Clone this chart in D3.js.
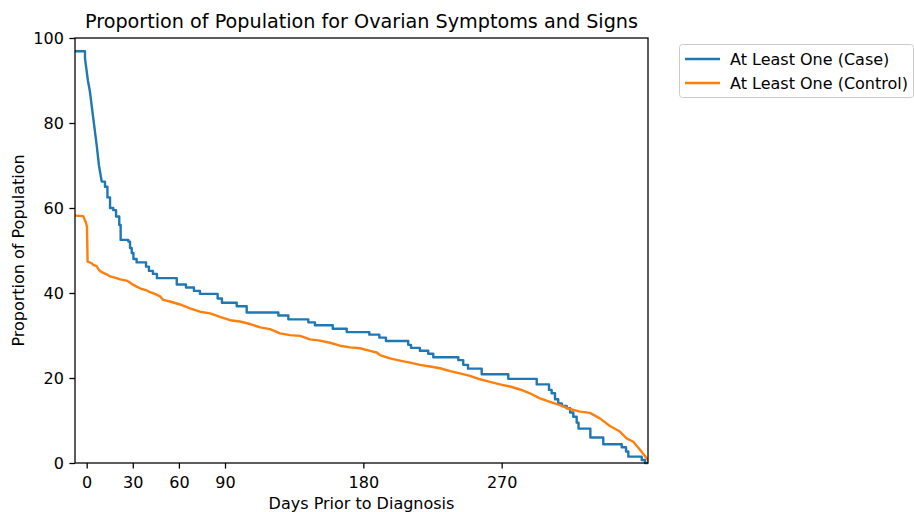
<!DOCTYPE html>
<html>
<head>
<meta charset="utf-8">
<script src="https://cdn.jsdelivr.net/npm/d3@7"></script>
<style>
  html, body { margin: 0; padding: 0; background: #fff; }
  svg { display: block; font-family: "DejaVu Sans", sans-serif; }
</style>
</head>
<body>
<svg id="chart" width="914" height="512"></svg>
<script>
// Days relative to diagnosis and proportion of population (%)
const caseDays = [-7.6, -1.8, -1.1, 0.8, 2.1, 4.3, 6.5, 8.0, 9.8, 11.9, 13.5, 15.2, 17.3, 19.1, 21.2, 22.1, 27.1, 28.2, 29.3, 30.4, 32.5, 38.6, 40.5, 43.1, 45.7, 58.6, 64.6, 69.8, 73.7, 85.2, 88.0, 97.6, 104.1, 124.7, 131.2, 144.2, 148.5, 160.1, 169.2, 183.9, 190.4, 194.7, 209.2, 211.0, 216.8, 222.2, 225.5, 241.8, 245.0, 248.1, 257.0, 274.3, 292.8, 300.8, 302.5, 304.7, 306.8, 309.2, 312.3, 314.5, 316.6, 318.8, 320.0, 327.7, 336.1, 348.1, 350.9, 352.4, 361.1, 363.2, 365.2];
const caseValues = [96.9, 96.9, 95.2, 90.0, 87.4, 81.1, 74.8, 70.0, 66.2, 65.0, 62.5, 60.0, 59.5, 58.0, 56.0, 52.5, 52.1, 50.6, 49.4, 48.0, 47.2, 46.2, 45.2, 44.5, 43.5, 42.0, 41.3, 40.5, 39.8, 38.7, 37.7, 36.9, 35.4, 34.7, 33.8, 33.1, 32.4, 31.6, 30.8, 30.2, 29.5, 28.7, 27.8, 27.1, 26.4, 25.7, 24.9, 24.2, 23.1, 22.2, 20.9, 19.8, 18.5, 17.2, 16.4, 15.0, 14.0, 13.4, 12.9, 11.9, 10.9, 9.5, 8.1, 6.0, 4.4, 3.7, 2.7, 1.5, 0.7, 0.0, 0.0];

const controlDays = [-7.6, -2.2, -1.8, -0.5, 0.2, 0.6, 3.3, 4.3, 6.5, 8.0, 9.8, 13.0, 15.2, 19.5, 21.7, 26.0, 27.1, 29.5, 32.5, 35.3, 39.0, 41.2, 44.4, 47.7, 49.8, 54.2, 60.7, 67.2, 73.7, 80.3, 86.7, 93.3, 99.7, 106.3, 112.8, 119.3, 125.8, 132.3, 138.8, 145.3, 151.8, 158.3, 164.8, 171.3, 177.8, 184.3, 188.7, 190.8, 197.3, 203.8, 210.4, 216.9, 223.4, 229.9, 236.4, 242.9, 249.4, 255.9, 262.4, 268.9, 275.4, 281.9, 288.4, 294.9, 301.4, 307.9, 314.4, 320.9, 327.4, 333.9, 340.4, 346.9, 351.3, 355.6, 360.0, 364.3, 365.2];
const controlValues = [58.2, 58.1, 57.7, 56.6, 55.5, 47.4, 47.0, 46.6, 46.3, 45.4, 44.9, 44.4, 43.9, 43.5, 43.2, 42.9, 42.7, 42.1, 41.5, 41.0, 40.6, 40.2, 39.8, 39.2, 38.4, 38.0, 37.3, 36.4, 35.6, 35.2, 34.4, 33.6, 33.3, 32.7, 31.9, 31.5, 30.5, 30.1, 29.9, 29.1, 28.8, 28.3, 27.6, 27.2, 27.0, 26.4, 26.0, 25.4, 24.6, 24.1, 23.6, 23.1, 22.7, 22.3, 21.6, 21.1, 20.5, 19.7, 19.1, 18.5, 18.0, 17.3, 16.4, 15.2, 14.4, 13.6, 12.7, 12.1, 11.8, 10.5, 8.7, 7.4, 5.8, 5.0, 3.1, 1.1, 0.7];

const xTicks = [0, 30, 60, 90, 180, 270];
const yTicks = [0, 20, 40, 60, 80, 100];
const seriesNames = ["At Least One (Case)", "At Least One (Control)"];
const seriesColors = ["#1f77b4", "#ff7f0e"];

const svg = d3.select("#chart");
const margin = { left: 75, right: 266, top: 38, bottom: 49 };
const W = 914, H = 512;
const plotW = W - margin.left - margin.right;
const plotH = H - margin.top - margin.bottom;

const x = d3.scaleLinear().domain([-7.6, 365.2]).range([0, plotW]);
const y = d3.scaleLinear().domain([0, 100]).range([plotH, 0]);

const g = svg.append("g").attr("transform", `translate(${margin.left},${margin.top})`);

svg.append("defs").append("clipPath").attr("id", "plotClip")
  .append("rect").attr("x", 0).attr("y", -2).attr("width", plotW).attr("height", plotH + 4);

// Case curve: stepped, except the rapid early decline which runs as a continuous slope
function casePoints(days, vals) {
  const pts = [[days[0], vals[0]]];
  for (let i = 1; i < days.length; i++) {
    const sloped = days[i] <= 10 && days[i - 1] > -1.5;
    if (!sloped) pts.push([days[i], vals[i - 1]]);
    pts.push([days[i], vals[i]]);
  }
  return pts;
}
const caseData = casePoints(caseDays, caseValues);
const controlData = controlDays.map((d, i) => [d, controlValues[i]]);

const line = d3.line().x(d => x(d[0])).y(d => y(d[1])).curve(d3.curveLinear);

const lines = g.append("g").attr("clip-path", "url(#plotClip)");
[caseData, controlData].forEach((data, i) => {
  lines.append("path").datum(data)
    .attr("d", line)
    .attr("fill", "none").attr("stroke", seriesColors[i])
    .attr("stroke-width", 2.4).attr("stroke-linejoin", "round").attr("stroke-linecap", "square");
});

// axes
const xAxis = d3.axisBottom(x).tickValues(xTicks).tickSize(5.6).tickPadding(8.5);
const yAxis = d3.axisLeft(y).tickValues(yTicks).tickSize(5.6).tickPadding(5.6);

const gx = g.append("g").attr("transform", `translate(0,${plotH})`).call(xAxis);
const gy = g.append("g").call(yAxis);
[gx, gy].forEach(a => {
  a.select(".domain").remove();
  a.selectAll("line").attr("stroke", "#000").attr("stroke-width", 1.28);
  a.selectAll("text").attr("fill", "#000").style("font-size", "16px")
    .style("font-family", "'DejaVu Sans', sans-serif");
});

// frame
g.append("rect").attr("x", 0).attr("y", 0).attr("width", plotW).attr("height", plotH)
  .attr("fill", "none").attr("stroke", "#000").attr("stroke-width", 1.28);

// title and axis labels
g.append("text").attr("x", plotW / 2).attr("y", -10)
  .attr("text-anchor", "middle").style("font-size", "19.2px")
  .text("Proportion of Population for Ovarian Symptoms and Signs");

g.append("text").attr("x", plotW / 2).attr("y", plotH + 46)
  .attr("text-anchor", "middle").style("font-size", "16px")
  .text("Days Prior to Diagnosis");

g.append("text")
  .attr("transform", `translate(${-51},${plotH / 2}) rotate(-90)`)
  .attr("text-anchor", "middle").style("font-size", "16px")
  .text("Proportion of Population");

// legend
const legend = svg.append("g").attr("transform", "translate(679,44)");
legend.append("rect").attr("x", 0.5).attr("y", 0.5).attr("width", 234).attr("height", 53)
  .attr("rx", 3).attr("fill", "#fff").attr("stroke", "#ccc").attr("stroke-width", 1);
seriesNames.forEach((name, i) => {
  const ly = 15 + i * 24;
  legend.append("line").attr("x1", 6).attr("x2", 41).attr("y1", ly).attr("y2", ly)
    .attr("stroke", seriesColors[i]).attr("stroke-width", 2.4);
  legend.append("text").attr("x", 51).attr("y", ly).attr("dy", "0.35em")
    .style("font-size", "16px").text(name);
});
</script>
</body>
</html>
